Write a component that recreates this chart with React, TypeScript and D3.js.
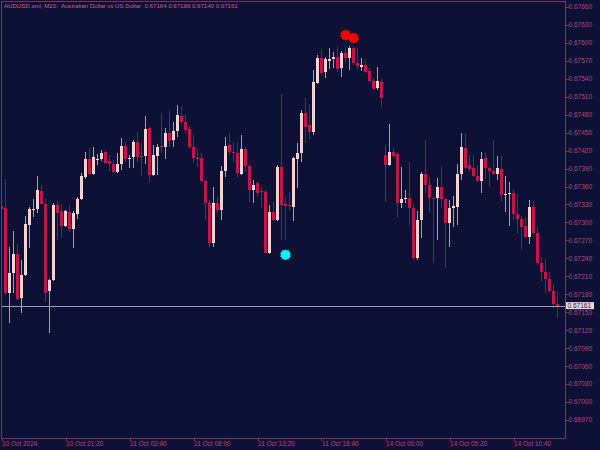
import React from "react";
import * as d3 from "d3";

const title = "AUDUSD.sml, M20:  Australian Dollar vs US Dollar  0.67164 0.67186 0.67140 0.67161";

const open = [
  0.67327, 0.67324, 0.67182, 0.67215, 0.67247, 0.67174, 0.67212, 0.67296, 0.67322, 0.67322,
  0.67352, 0.67331, 0.67185, 0.67204, 0.67329, 0.67319, 0.67294, 0.67317, 0.67289, 0.67314,
  0.67339, 0.67376, 0.67406, 0.67381, 0.67404, 0.67406, 0.67417, 0.67402, 0.67398, 0.67384,
  0.67398, 0.67428, 0.67406, 0.67409, 0.67434, 0.67411, 0.67411, 0.67457, 0.67379, 0.67411,
  0.67428, 0.67426, 0.67449, 0.67437, 0.67453, 0.67478, 0.67468, 0.67456, 0.67426, 0.67408,
  0.67407, 0.67369, 0.67332, 0.67266, 0.67332, 0.67321, 0.67386, 0.67429, 0.67418, 0.67416,
  0.67381, 0.67423, 0.67394, 0.67354, 0.67366, 0.67352, 0.67351, 0.67249, 0.67317, 0.67304,
  0.67393, 0.6733, 0.67329, 0.67326, 0.67406, 0.67416, 0.67483, 0.67462, 0.67451, 0.67533,
  0.67575, 0.67551, 0.6757, 0.67573, 0.67576, 0.67558, 0.67583, 0.67575, 0.67591, 0.67566,
  0.6756, 0.67563, 0.67553, 0.67536, 0.67524, 0.67535, 0.67413, 0.67396, 0.67418, 0.67414,
  0.67332, 0.67339, 0.67341, 0.67324, 0.6724, 0.67304, 0.67381, 0.67362, 0.67341, 0.6734,
  0.67359, 0.67339, 0.67299, 0.67324, 0.67326, 0.67381, 0.67424, 0.67396, 0.67391, 0.67377,
  0.67369, 0.67407, 0.67391, 0.67386, 0.67381, 0.67389, 0.67346, 0.67347, 0.67349, 0.67314,
  0.67306, 0.67294, 0.67276, 0.67326, 0.67282, 0.67232, 0.67217, 0.67205, 0.67186, 0.67164,
];

const high = [
  0.67329, 0.67372, 0.67259, 0.67286, 0.67264, 0.67237, 0.67311, 0.67326, 0.67339, 0.67378,
  0.67362, 0.67339, 0.67205, 0.67332, 0.67336, 0.67331, 0.67321, 0.67329, 0.67319, 0.67342,
  0.67383, 0.67418, 0.67424, 0.67426, 0.67414, 0.67421, 0.67419, 0.67413, 0.67404, 0.67416,
  0.67441, 0.67434, 0.67413, 0.67438, 0.67451, 0.67433, 0.67478, 0.67459, 0.67429, 0.67431,
  0.67483, 0.67458, 0.67486, 0.67468, 0.67496, 0.67494, 0.67481, 0.67461, 0.67446, 0.67423,
  0.67416, 0.67371, 0.67337, 0.67359, 0.67342, 0.67394, 0.67443, 0.67449, 0.67434, 0.67434,
  0.67446, 0.67426, 0.67398, 0.67371, 0.67368, 0.67357, 0.67354, 0.67329, 0.67334, 0.67396,
  0.67514, 0.67342, 0.67351, 0.6741, 0.67433, 0.67488, 0.67508, 0.67498, 0.67555, 0.6758,
  0.6759, 0.67576, 0.67591, 0.67585, 0.67593, 0.67586, 0.67593, 0.67594, 0.67595, 0.67591,
  0.67575, 0.67571, 0.67558, 0.67541, 0.6756, 0.6754, 0.67429, 0.67464, 0.67424, 0.67418,
  0.67393, 0.67354, 0.67401, 0.67331, 0.67319, 0.67384, 0.67438, 0.67376, 0.67344, 0.67374,
  0.67393, 0.6734, 0.67337, 0.67344, 0.67398, 0.67449, 0.67449, 0.67413, 0.67413, 0.67396,
  0.67418, 0.67418, 0.67393, 0.67438, 0.67411, 0.67411, 0.67378, 0.67368, 0.67356, 0.67347,
  0.67311, 0.67309, 0.67337, 0.67336, 0.67292, 0.67242, 0.67239, 0.67217, 0.67197, 0.67186,
];

const low = [
  0.67321, 0.67179, 0.67132, 0.67182, 0.6717, 0.67149, 0.6721, 0.67257, 0.67309, 0.67316,
  0.6733, 0.67167, 0.67115, 0.67202, 0.67271, 0.67274, 0.67292, 0.67284, 0.67257, 0.67306,
  0.67337, 0.67372, 0.67379, 0.67379, 0.67396, 0.67402, 0.67397, 0.67386, 0.67383, 0.67382,
  0.67387, 0.67401, 0.67391, 0.67391, 0.67401, 0.67378, 0.67398, 0.67366, 0.67377, 0.67379,
  0.67416, 0.67406, 0.67426, 0.67426, 0.67443, 0.67464, 0.67449, 0.67423, 0.67399, 0.67393,
  0.67367, 0.67304, 0.67259, 0.67259, 0.67316, 0.67304, 0.67376, 0.67413, 0.67401, 0.67376,
  0.67379, 0.67384, 0.67334, 0.67332, 0.67342, 0.67324, 0.67247, 0.67247, 0.67302, 0.67302,
  0.67271, 0.67271, 0.67321, 0.67302, 0.67357, 0.67401, 0.67433, 0.67438, 0.67446, 0.67532,
  0.67546, 0.67541, 0.67556, 0.67558, 0.67551, 0.67543, 0.67568, 0.67555, 0.67563, 0.67555,
  0.67553, 0.6755, 0.67535, 0.67521, 0.67522, 0.67493, 0.67334, 0.67395, 0.67407, 0.67309,
  0.67324, 0.67332, 0.67296, 0.67237, 0.67237, 0.67274, 0.67349, 0.67316, 0.67232, 0.67271,
  0.67324, 0.67224, 0.67259, 0.67292, 0.67296, 0.67371, 0.67389, 0.67384, 0.67376, 0.67367,
  0.67349, 0.67372, 0.67359, 0.67379, 0.67371, 0.67336, 0.67317, 0.67294, 0.67304, 0.67282,
  0.67256, 0.67274, 0.67264, 0.67279, 0.67229, 0.67202, 0.67182, 0.67184, 0.67157, 0.6714,
];

const close = [
  0.67322, 0.67182, 0.67215, 0.67247, 0.67172, 0.67212, 0.67297, 0.67322, 0.67323, 0.67354,
  0.67331, 0.67182, 0.67204, 0.67329, 0.67316, 0.67294, 0.67319, 0.67289, 0.67316, 0.67339,
  0.67378, 0.67406, 0.67381, 0.67409, 0.67406, 0.67416, 0.67399, 0.67398, 0.67384, 0.67398,
  0.67428, 0.67406, 0.67408, 0.67434, 0.67409, 0.67409, 0.67456, 0.67379, 0.67413, 0.67426,
  0.67426, 0.67449, 0.67436, 0.67453, 0.67479, 0.67468, 0.67454, 0.67426, 0.67408, 0.67406,
  0.67369, 0.67332, 0.67266, 0.67332, 0.67321, 0.67386, 0.67428, 0.67418, 0.67416, 0.67382,
  0.67423, 0.67394, 0.67354, 0.67362, 0.67349, 0.67351, 0.67249, 0.67317, 0.67304, 0.67393,
  0.67329, 0.67328, 0.67327, 0.67408, 0.67416, 0.67483, 0.67459, 0.67451, 0.67535, 0.67575,
  0.6755, 0.67573, 0.67573, 0.67576, 0.67556, 0.67583, 0.67575, 0.67591, 0.67566, 0.67561,
  0.67563, 0.67551, 0.67536, 0.67523, 0.67536, 0.67508, 0.67396, 0.67418, 0.67411, 0.67332,
  0.67339, 0.67341, 0.67324, 0.6724, 0.67304, 0.67381, 0.67362, 0.67341, 0.67339, 0.67359,
  0.67339, 0.67299, 0.67324, 0.67327, 0.67381, 0.67426, 0.67391, 0.67389, 0.67377, 0.67369,
  0.67406, 0.67391, 0.67386, 0.67381, 0.67391, 0.67346, 0.67348, 0.67349, 0.67314, 0.67306,
  0.67292, 0.67276, 0.67326, 0.67282, 0.67232, 0.67217, 0.67205, 0.67185, 0.67164, 0.67161,
];

const priceTicks = [
  0.6766, 0.6763, 0.676, 0.6757, 0.6754, 0.6751, 0.6748, 0.6745, 0.6742, 0.6739, 0.6736, 0.6733,
  0.673, 0.6727, 0.6724, 0.6721, 0.6718, 0.6715, 0.6712, 0.6709, 0.6706, 0.6703, 0.67, 0.6697,
];

const timeTickBars = [0, 16, 32, 48, 64, 80, 96, 112, 128];
const timeTickLabels = [
  "10 Oct 2024", "10 Oct 21:20", "11 Oct 02:40", "11 Oct 08:00", "11 Oct 13:20",
  "11 Oct 18:40", "14 Oct 00:00", "14 Oct 05:20", "14 Oct 10:40",
];

const sellSignalBars = [86, 88];
const sellSignalPrices = [0.67613, 0.67608];
const buySignalBars = [71];
const buySignalPrices = [0.67246];

const bidPrice = 0.67161;

const W = 600;
const H = 450;
const plotL = 1;
const plotT = 1;
const plotR = 565;
const plotB = 438;

const BG = "#0d1136";
const BORDER = "#7b365f";
const TEXT = "#b8477a";
const BULL = "#f6d3d3";
const BEAR = "#c6124d";
const BULL_WICK = "#a59cb0";
const BEAR_WICK = "#861548";

const FONT = "'Liberation Sans', Arial, sans-serif";

function starPath(rOut: number, rIn: number, n: number) {
  const pts: [number, number][] = [];
  for (let k = 0; k < n * 2; k++) {
    pts.push([(k * Math.PI) / n, k % 2 === 0 ? rOut : rIn]);
  }
  return d3.lineRadial().curve(d3.curveLinearClosed)(pts) || "";
}

export default function App() {
  const x = d3.scaleLinear().domain([0, 139]).range([1.5, 557.5]);
  const y = d3.scaleLinear().domain([0.6697, 0.6766]).range([420, 6.9]);
  const marker = starPath(5.6, 4.6, 10);
  const fmt = d3.format(".5f");

  return (
    <svg
      width={W}
      height={H}
      style={{ position: "absolute", left: 0, top: 0, display: "block", background: BG }}
    >
      <rect x={0} y={0} width={W} height={H} fill={BG} />
      <defs>
        <clipPath id="plotClip">
          <rect x={plotL} y={plotT} width={plotR - plotL} height={plotB - plotT} />
        </clipPath>
      </defs>

      <g clipPath="url(#plotClip)" shapeRendering="crispEdges">
        {open.map((o, i) => {
          const c = close[i];
          const bull = c >= o;
          const xc = x(i);
          const yo = y(o);
          const yc = y(c);
          const top = Math.min(yo, yc);
          const h = Math.max(1, Math.abs(yo - yc));
          return (
            <g key={i}>
              <line
                x1={xc}
                x2={xc}
                y1={y(high[i])}
                y2={y(low[i])}
                stroke={bull ? BULL_WICK : BEAR_WICK}
                strokeWidth={1}
              />
              <rect x={xc - 1.5} y={top} width={3} height={h} fill={bull ? BULL : BEAR} />
            </g>
          );
        })}
        <line
          x1={plotL}
          x2={plotR}
          y1={Math.round(y(bidPrice)) + 0.5}
          y2={Math.round(y(bidPrice)) + 0.5}
          stroke="#a49bb3"
          strokeWidth={1}
        />
      </g>

      {sellSignalBars.map((b, k) => (
        <path
          key={"s" + k}
          d={marker}
          transform={`translate(${x(b)},${y(sellSignalPrices[k])})`}
          fill="#f40000"
        />
      ))}
      {buySignalBars.map((b, k) => (
        <path
          key={"b" + k}
          d={marker}
          transform={`translate(${x(b)},${y(buySignalPrices[k])})`}
          fill="#00f2ff"
        />
      ))}

      <rect
        x={plotL + 0.5}
        y={plotT + 0.5}
        width={plotR - plotL}
        height={plotB - plotT}
        fill="none"
        stroke={BORDER}
        strokeWidth={1}
        shapeRendering="crispEdges"
      />

      <text
        x={4}
        y={8}
        fontFamily={FONT}
        fontSize={6.1}
        fill="#cf5b8c"
        style={{ whiteSpace: "pre" }}
      >
        {title}
      </text>

      {priceTicks.map((p, k) => (
        <g key={"p" + k}>
          <line
            x1={plotR + 0.5}
            x2={plotR + 3.5}
            y1={Math.round(y(p)) + 0.5}
            y2={Math.round(y(p)) + 0.5}
            stroke={BORDER}
            shapeRendering="crispEdges"
          />
          <text x={plotR + 3.5} y={y(p) + 2.4} fontFamily={FONT} fontSize={6.5} fill={TEXT}>
            {fmt(p)}
          </text>
        </g>
      ))}

      <rect x={566} y={y(bidPrice) - 3.5} width={28} height={7} fill="#f3d6d8" />
      <text
        x={567.5}
        y={y(bidPrice) + 2.3}
        fontFamily={FONT}
        fontSize={6.5}
        fill="#141838"
      >
        {fmt(bidPrice)}
      </text>

      {timeTickBars.map((b, k) => (
        <g key={"t" + k}>
          <line
            x1={Math.round(x(b)) + 0.5}
            x2={Math.round(x(b)) + 0.5}
            y1={plotB}
            y2={plotB + 3}
            stroke={BORDER}
            shapeRendering="crispEdges"
          />
          <text x={x(b) + 0.5} y={446} fontFamily={FONT} fontSize={6.5} fill={TEXT}>
            {timeTickLabels[k]}
          </text>
        </g>
      ))}
    </svg>
  );
}
